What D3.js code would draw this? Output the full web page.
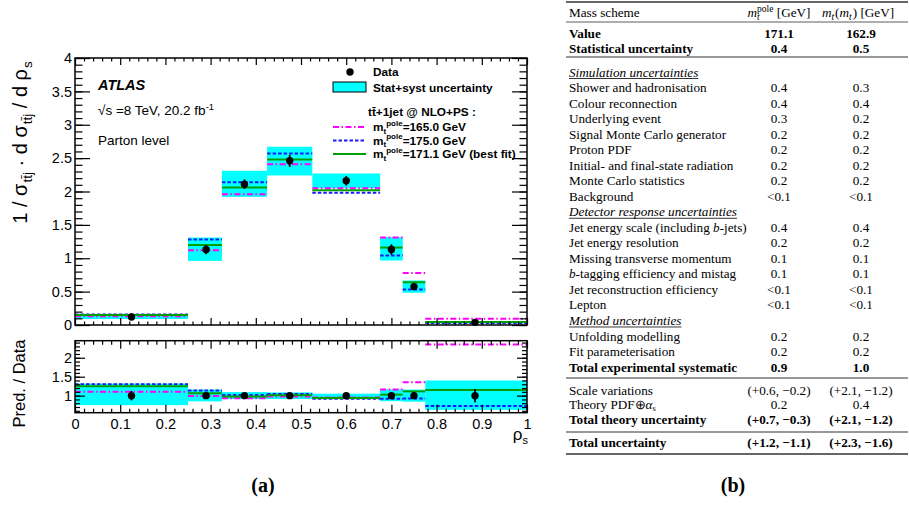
<!DOCTYPE html>
<html><head><meta charset="utf-8">
<script src="https://cdn.jsdelivr.net/npm/d3@7"></script>
<style>body{margin:0;background:#fff} svg{display:block}</style>
</head><body>
<svg id="c" width="909" height="505"></svg>
<script>
// ---------- chart data ----------
const binEdges = [0, 0.25, 0.325, 0.425, 0.525, 0.675, 0.725, 0.775, 1.0];
const dataX    = [0.125, 0.29, 0.375, 0.475, 0.6, 0.7, 0.75, 0.885];
const dataY    = [0.12, 1.13, 2.11, 2.46, 2.16, 1.13, 0.575, 0.04];
const dataErr  = [0.015, 0.07, 0.07, 0.09, 0.07, 0.08, 0.05, 0.007];
const bandLo   = [0.09, 0.96, 1.92, 2.24, 2.05, 0.966, 0.483, 0.025];
const bandHi   = [0.158, 1.31, 2.31, 2.67, 2.27, 1.316, 0.667, 0.056];
const pred165  = [0.132, 1.12, 1.96, 2.41, 2.05, 1.31, 0.78, 0.094];
const pred175  = [0.156, 1.28, 2.14, 2.57, 1.98, 1.04, 0.53, 0.029];
const pred171  = [0.150, 1.20, 2.06, 2.48, 2.02, 1.16, 0.64, 0.046];
const xTicks      = [0, 0.1, 0.2, 0.3, 0.4, 0.5, 0.6, 0.7, 0.8, 0.9, 1];
const yTicksMain  = [0, 0.5, 1, 1.5, 2, 2.5, 3, 3.5, 4];
const yTicksRatio = [1, 1.5, 2];
const legendMasses = ["165.0 GeV", "175.0 GeV", "171.1 GeV (best fit)"];

// ---------- table data ----------
const tableLabels = ["Value","Statistical uncertainty","Simulation uncertainties","Shower and hadronisation",
 "Colour reconnection","Underlying event","Signal Monte Carlo generator","Proton PDF",
 "Initial- and final-state radiation","Monte Carlo statistics","Background","Detector response uncertainties",
 "Jet energy scale (including _b_-jets)","Jet energy resolution","Missing transverse momentum",
 "_b_-tagging efficiency and mistag","Jet reconstruction efficiency","Lepton","Method uncertainties",
 "Unfolding modelling","Fit parameterisation","Total experimental systematic","Scale variations",
 "Theory PDF⊕_α_~s~","Total theory uncertainty","Total uncertainty"];
const poleValues = ["171.1","0.4","","0.4","0.4","0.3","0.2","0.2","0.2","0.2","<0.1","","0.4","0.2","0.1","0.1",
 "<0.1","<0.1","","0.2","0.2","0.9","(+0.6, −0.2)","0.2","(+0.7, −0.3)","(+1.2, −1.1)"];
const runningValues = ["162.9","0.5","","0.3","0.4","0.2","0.2","0.2","0.2","0.2","<0.1","","0.4","0.2","0.1","0.1",
 "<0.1","<0.1","","0.2","0.2","1.0","(+2.1, −1.2)","0.4","(+2.1, −1.2)","(+2.3, −1.6)"];
const boldRows = [0, 1, 21, 24, 25];
const sectionRows = [2, 11, 18];

// ---------- drawing ----------
const svg = d3.select("#c");
svg.append("rect").attr("width",909).attr("height",505).attr("fill","#fff");
const SANS = "'Liberation Sans', Arial, Helvetica, sans-serif";
const SERIF = "'Liberation Serif', 'Times New Roman', serif";

const x = d3.scaleLinear([0,1],[75,527]);
const yM = d3.scaleLinear([0,4],[325,58]);
const yR = d3.scaleLinear([0.55,2.45],[412.7,340.7]);

const MAG="#ff00ff", BLU="#1a1aff", GRN="#00a000", CYN="#00ffff";
const styles = [
  {vals: pred165, color: MAG, dash: "6,2.5,1.5,2.5"},
  {vals: pred175, color: BLU, dash: "3.5,2"},
  {vals: pred171, color: GRN, dash: null}
];

const bins = d3.range(dataY.length);

function panel(g, yS, getBand, getPred, getData, getErr) {
  g.selectAll("rect.band").data(bins).join("rect")
    .attr("x", i => x(binEdges[i])).attr("width", i => x(binEdges[i+1]) - x(binEdges[i]))
    .attr("y", i => yS(getBand(i)[1])).attr("height", i => yS(getBand(i)[0]) - yS(getBand(i)[1]))
    .attr("fill", CYN);
  styles.forEach(s => {
    g.selectAll(null).data(bins).join("line")
      .attr("x1", i => x(binEdges[i])).attr("x2", i => x(binEdges[i+1]))
      .attr("y1", i => yS(getPred(s.vals, i))).attr("y2", i => yS(getPred(s.vals, i)))
      .attr("stroke", s.color).attr("stroke-width", 2)
      .attr("stroke-dasharray", s.dash);
  });
  g.selectAll("line.err").data(bins).join("line")
    .attr("x1", i => x(dataX[i])).attr("x2", i => x(dataX[i]))
    .attr("y1", i => yS(getData(i) - getErr(i))).attr("y2", i => yS(getData(i) + getErr(i)))
    .attr("stroke", "#000").attr("stroke-width", 1.8);
  g.selectAll("circle").data(bins).join("circle")
    .attr("cx", i => x(dataX[i])).attr("cy", i => yS(getData(i))).attr("r", 3.7).attr("fill", "#000");
}

const gM = svg.append("g");
panel(gM, yM, i => [bandLo[i], bandHi[i]], (v,i) => v[i], i => dataY[i], i => dataErr[i]);
const gR = svg.append("g");
panel(gR, yR, i => [bandLo[i]/dataY[i], bandHi[i]/dataY[i]], (v,i) => v[i]/dataY[i], i => 1, i => dataErr[i]/dataY[i]);

function styleAxis(g, fs) {
  g.select(".domain").remove();
  g.selectAll(".tick line").attr("stroke","#000").attr("stroke-width",1.2);
  g.selectAll("text").attr("font-family", SANS).attr("font-size", fs).attr("fill","#000");
  g.attr("font-family", null).attr("font-size", null);
}
const fmt = d => String(d);
function addAxis(gen, tx, ty, fs) {
  const g = svg.append("g").attr("transform", `translate(${tx},${ty})`).call(gen);
  styleAxis(g, fs || 14);
  return g;
}
const xMinor = d3.range(0, 50).map(k => k/50).filter(v => Math.abs(v*10 - Math.round(v*10)) > 1e-6);
const yMinorMain = d3.range(0, 41).map(k => k/10);
const yMinorRatio = d3.range(6, 25).map(k => k/10);

// main panel axes
addAxis(d3.axisLeft(yM).tickValues(yTicksMain).tickSizeInner(-15).tickSizeOuter(0).tickPadding(3).tickFormat(fmt), 75, 0, 14.5);
addAxis(d3.axisLeft(yM).tickValues(yMinorMain).tickSizeInner(-7.5).tickSizeOuter(0).tickFormat(""), 75, 0);
addAxis(d3.axisRight(yM).tickValues(yTicksMain).tickSizeInner(-15).tickSizeOuter(0).tickFormat(""), 527, 0);
addAxis(d3.axisRight(yM).tickValues(yMinorMain).tickSizeInner(-7.5).tickSizeOuter(0).tickFormat(""), 527, 0);
addAxis(d3.axisBottom(x).tickValues(xTicks).tickSizeInner(-7).tickSizeOuter(0).tickFormat(""), 0, 325);
addAxis(d3.axisBottom(x).tickValues(xMinor).tickSizeInner(-3.5).tickSizeOuter(0).tickFormat(""), 0, 325);
addAxis(d3.axisTop(x).tickValues(xTicks).tickSizeInner(-7).tickSizeOuter(0).tickFormat(""), 0, 58);
addAxis(d3.axisTop(x).tickValues(xMinor).tickSizeInner(-3.5).tickSizeOuter(0).tickFormat(""), 0, 58);
// ratio panel axes
addAxis(d3.axisLeft(yR).tickValues(yTicksRatio).tickSizeInner(-10).tickSizeOuter(0).tickPadding(3).tickFormat(fmt), 75, 0, 14.5);
addAxis(d3.axisLeft(yR).tickValues(yMinorRatio).tickSizeInner(-5).tickSizeOuter(0).tickFormat(""), 75, 0);
addAxis(d3.axisRight(yR).tickValues(yTicksRatio).tickSizeInner(-10).tickSizeOuter(0).tickFormat(""), 527, 0);
addAxis(d3.axisRight(yR).tickValues(yMinorRatio).tickSizeInner(-5).tickSizeOuter(0).tickFormat(""), 527, 0);
addAxis(d3.axisBottom(x).tickValues(xTicks).tickSizeInner(-8).tickSizeOuter(0).tickPadding(6).tickFormat(fmt), 0, 412.7, 14.5);
addAxis(d3.axisBottom(x).tickValues(xMinor).tickSizeInner(-4).tickSizeOuter(0).tickFormat(""), 0, 412.7);
addAxis(d3.axisTop(x).tickValues(xTicks).tickSizeInner(-8).tickSizeOuter(0).tickFormat(""), 0, 340.7);
addAxis(d3.axisTop(x).tickValues(xMinor).tickSizeInner(-4).tickSizeOuter(0).tickFormat(""), 0, 340.7);

// frames
svg.append("rect").attr("x",75).attr("y",58).attr("width",452).attr("height",267)
  .attr("fill","none").attr("stroke","#000").attr("stroke-width",1.5);
svg.append("rect").attr("x",75).attr("y",340.7).attr("width",452).attr("height",72)
  .attr("fill","none").attr("stroke","#000").attr("stroke-width",1.5);

// axis titles
const yt = svg.append("text").attr("transform","translate(27,142.5) rotate(-90)")
  .attr("text-anchor","middle").attr("font-family",SANS).attr("font-size",20);
yt.append("tspan").text("1 / σ");
yt.append("tspan").attr("font-size",13.5).attr("dy",4.5).attr("dx",1).text("tt\u0304j");
yt.append("tspan").attr("dy",-4.5).text(" · d σ");
yt.append("tspan").attr("font-size",13.5).attr("dy",4.5).attr("dx",1).text("tt\u0304j");
yt.append("tspan").attr("dy",-4.5).text(" / d ρ");
yt.append("tspan").attr("font-size",13.5).attr("dy",4.5).attr("dx",1).text("s");
svg.append("text").attr("transform","translate(25,383.5) rotate(-90)").attr("text-anchor","middle")
  .attr("font-family",SANS).attr("font-size",16.5).text("Pred. / Data");
const xt = svg.append("text").attr("x",528).attr("y",440).attr("text-anchor","end")
  .attr("font-family",SANS).attr("font-size",17);
xt.append("tspan").text("ρ");
xt.append("tspan").attr("font-size",11).attr("dy",4).text("s");

// annotations
svg.append("text").attr("x",98).attr("y",90).attr("font-family",SANS).attr("font-size",14.5)
  .attr("font-weight","bold").attr("font-style","italic").text("ATLAS");
const rs = svg.append("text").attr("x",98).attr("y",115).attr("font-family",SANS).attr("font-size",13.5);
rs.append("tspan").text("√s =8 TeV, 20.2  fb");
rs.append("tspan").attr("font-size",9.5).attr("dy",-5).text("-1");
svg.append("text").attr("x",98).attr("y",145).attr("font-family",SANS).attr("font-size",13.5).text("Parton level");

// legend
const LF = 11.8;
const lg = svg.append("g").attr("font-family",SANS).attr("font-size",LF).attr("font-weight","bold");
lg.append("circle").attr("cx",350).attr("cy",72).attr("r",3.7).attr("fill","#000");
lg.append("text").attr("x",373).attr("y",76).text("Data");
lg.append("rect").attr("x",333).attr("y",82).attr("width",33).attr("height",10)
  .attr("fill",CYN).attr("stroke","#000").attr("stroke-width",1);
lg.append("text").attr("x",373).attr("y",91.5).text("Stat+syst uncertainty");
lg.append("text").attr("x",368).attr("y",116).text("tt\u0304+1jet @ NLO+PS :");
const legY = [127, 140.5, 154];
styles.forEach((s, k) => {
  lg.append("line").attr("x1",333).attr("x2",366).attr("y1",legY[k]).attr("y2",legY[k])
    .attr("stroke",s.color).attr("stroke-width",2).attr("stroke-dasharray",s.dash);
  const t = lg.append("text").attr("x",373).attr("y",legY[k]+4);
  t.append("tspan").text("m");
  t.append("tspan").attr("font-size",8).attr("dy",2.5).text("t");
  t.append("tspan").attr("font-size",8).attr("dy",-8).text("pole");
  t.append("tspan").attr("dy",5.5).text("=" + legendMasses[k]);
});

// panel labels
svg.append("text").attr("x",263).attr("y",492).attr("text-anchor","middle").attr("font-family",SERIF)
  .attr("font-size",20).attr("font-weight","bold").text("(a)");
svg.append("text").attr("x",733).attr("y",492).attr("text-anchor","middle").attr("font-family",SERIF)
  .attr("font-size",20).attr("font-weight","bold").text("(b)");

// ---------- table ----------
const TF = 13.2, TL = 569, C2 = 779, C3 = 861, RX0 = 566, RX1 = 908;
const tg = svg.append("g").attr("font-family",SERIF).attr("font-size",TF).attr("fill","#000");
const groupSizes = [2, 20, 3, 1], groupStart = [33, 72, 390, 442.5], step = 15.53;
const rowY = [];
groupSizes.forEach((n, gi) => { for (let k = 0; k < n; k++) rowY.push(groupStart[gi] + k*(gi===2 ? 14.8 : step)); });
const rules = [{y:2, w:1.6}, {y:22, w:0.8}, {y:57, w:1.1}, {y:378, w:1.1}, {y:432, w:1.1}, {y:454, w:1.6}];
rules.forEach(r => tg.append("line").attr("x1",RX0).attr("x2",RX1).attr("y1",r.y).attr("y2",r.y)
  .attr("stroke","#333").attr("stroke-width",r.w));

function richText(t, s) {
  s.split(/(_[^_]+_|~[^~]+~)/).filter(p => p.length).forEach(p => {
    if (p[0] === "_") t.append("tspan").attr("font-style","italic").text(p.slice(1,-1));
    else if (p[0] === "~") t.append("tspan").attr("font-size",8.5).attr("dy",2).text(p.slice(1,-1));
    else t.append("tspan").text(p);
  });
}
// header
tg.append("text").attr("x",TL).attr("y",17).text("Mass scheme");
const h2 = tg.append("text").attr("x",C2).attr("y",17).attr("text-anchor","middle");
h2.append("tspan").attr("font-style","italic").text("m");
h2.append("tspan").attr("font-style","italic").attr("font-size",9.5).attr("dy",3).text("t");
h2.append("tspan").attr("font-size",9.5).attr("dx",-2.6).attr("dy",-8.5).text("pole");
h2.append("tspan").attr("dy",5.5).text(" [GeV]");
const h3 = tg.append("text").attr("x",C3 - 3).attr("y",17).attr("text-anchor","middle");
h3.append("tspan").attr("font-style","italic").text("m");
h3.append("tspan").attr("font-style","italic").attr("font-size",9.5).attr("dy",3).text("t");
h3.append("tspan").attr("dy",-3).attr("dx",1).text("(");
h3.append("tspan").attr("font-style","italic").text("m");
h3.append("tspan").attr("font-style","italic").attr("font-size",9.5).attr("dy",3).text("t");
h3.append("tspan").attr("dy",-3).attr("dx",1).text(") [GeV]");

tableLabels.forEach((lab, i) => {
  const yb = rowY[i] + 4.5;
  const bold = boldRows.includes(i), sec = sectionRows.includes(i);
  const t = tg.append("text").attr("x",TL).attr("y",yb)
    .attr("font-weight", bold ? "bold" : null).attr("font-style", sec ? "italic" : null);
  richText(t, lab);
  if (sec) {
    const w = t.node().getComputedTextLength();
    tg.append("line").attr("x1",TL).attr("x2",TL+w).attr("y1",yb+2).attr("y2",yb+2)
      .attr("stroke","#000").attr("stroke-width",0.8);
  }
  [[C2, poleValues[i]], [C3, runningValues[i]]].forEach(([cx, v]) => {
    if (v) tg.append("text").attr("x",cx).attr("y",yb).attr("text-anchor","middle")
      .attr("font-weight", bold ? "bold" : null).text(v);
  });
});
</script>
</body></html>
